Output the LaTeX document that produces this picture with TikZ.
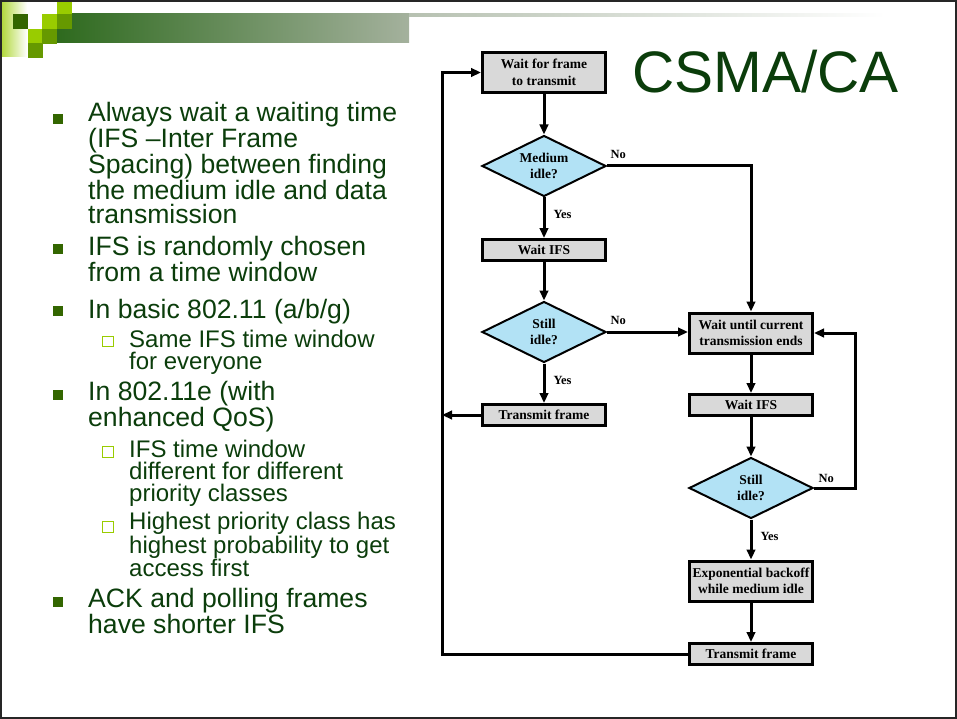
\documentclass[tikz,border=0pt]{standalone}
\usepackage{fontspec}
\setmainfont{Liberation Serif}
\setsansfont{Liberation Sans}
\usetikzlibrary{shapes.geometric,arrows.meta}

\definecolor{slidetext}{HTML}{0B3D0B}
\definecolor{darkleaf}{HTML}{336600}
\definecolor{midleaf}{HTML}{669900}
\definecolor{lightleaf}{HTML}{99CC00}
\definecolor{barstart}{HTML}{2E6A1E}
\definecolor{barend}{HTML}{A4B19D}
\definecolor{boxgray}{HTML}{D9D9D9}
\definecolor{idleblue}{HTML}{B2E2F5}

\tikzset{
  stepbox/.style={draw,line width=3pt,fill=boxgray,minimum width=123pt,minimum height=21pt,
    inner xsep=1pt,inner ysep=1pt,align=center,font=\fontsize{13.5}{16.5}\selectfont\bfseries},
  tallbox/.style={stepbox,minimum height=40pt},
  test/.style={diamond,aspect=2,draw,line width=2pt,fill=idleblue,minimum width=124pt,
    minimum height=61pt,inner sep=0pt,align=center,font=\fontsize{13.5}{16}\selectfont\bfseries},
  flow/.style={line width=3pt,-{Triangle[length=10pt,width=8.5pt]}},
  ans/.style={font=\fontsize{12.5}{14}\selectfont\bfseries,inner sep=1pt},
  % multi-line nodes sit on the baseline of their last line
  point/.style={font=\sffamily\fontsize{26.6}{24.2}\selectfont,text=slidetext,
    anchor=base west,align=left,inner sep=0pt},
  subpoint/.style={point,font=\sffamily\fontsize{24}{22.2}\selectfont},
}

\begin{document}
\begin{tikzpicture}[x=1pt,y=-1pt]
\useasboundingbox (0,0) rectangle (957,719);

% header bar and squares
\shade[left color=lightleaf!75,right color=white] (2,3) rectangle (27,57);
\shade[left color=barstart,right color=barend] (57,14) rectangle (409,43);
\shade[left color=barend!80,right color=white] (409,14) rectangle (885,17);
\foreach \x/\y/\c in {13/14/darkleaf,42/14/lightleaf,57/0/lightleaf,57/14/midleaf,
    28/29/lightleaf,42/29/midleaf,28/43/midleaf}
  \fill[\c] (\x,\y) rectangle ++(15,15);
\draw[line width=2pt,black!85] (1,1) rectangle (956,718);

\node[anchor=base west,inner sep=0pt,font=\sffamily\fontsize{58.5}{60}\selectfont,
  text=slidetext] (title) at (632,93) {CSMA/CA};

% bullet list
\node[point] (b1) at (88,223.3) {Always wait a waiting time\\(IFS –Inter Frame\\Spacing) between finding\\the medium idle and data\\transmission};
\node[point] (b2) at (88,281.2) {IFS is randomly chosen\\from a time window};
\node[point] (b3) at (88,318.3) {In basic 802.11 (a/b/g)};
\node[subpoint] (s1) at (129,369.8) {Same IFS time window\\for everyone};
\node[point] (b4) at (88,426.7) {In 802.11e (with\\enhanced QoS)};
\node[subpoint] (s2) at (129,501.7) {IFS time window\\different for different\\priority classes};
\node[subpoint] (s3) at (129,576.7) {Highest priority class has\\highest probability to get\\access first};
\node[point] (b5) at (88,633.3) {ACK and polling frames\\have shorter IFS};
\foreach \y in {126.7,256.7,318.3,402.7,609.3}
  \fill[darkleaf] (53,\y-12.5) rectangle ++(10,10);
\foreach \y in {347.3,457.7,532.7}
  \draw[lightleaf,line width=1.3pt,fill=white] (102.5,\y-11) rectangle ++(11,10.5);

% flow chart
\node[tallbox] (wait) at (544,72.5) {Wait for frame\\to transmit};
\node[test] (idle1) at (544,166) {Medium\\idle?};
\node[stepbox] (ifs1) at (544,250) {Wait IFS};
\node[test] (idle2) at (544,332) {Still\\idle?};
\node[stepbox] (send1) at (544,415) {Transmit frame};
\node[tallbox] (busy) at (751,333) {Wait until current\\transmission ends};
\node[stepbox] (ifs2) at (751,405) {Wait IFS};
\node[test] (idle3) at (751,488) {Still\\idle?};
\node[tallbox] (backoff) at (751,581) {Exponential backoff\\while medium idle};
\node[stepbox] (send2) at (751,654) {Transmit frame};
\coordinate (rail) at (442,73);
\coordinate (back) at (855,333);

\draw[flow] (wait) -- (idle1);
\draw[flow] (idle1) -- node[ans,pos=0.42,right=7pt] {Yes} (ifs1);
\draw[flow] (ifs1) -- (idle2);
\draw[flow] (idle2) -- node[ans,pos=0.42,right=7pt] {Yes} (send1);
\draw[flow] (send1.west) -- (send1.west -| rail);
\draw[flow] (send2.west) -- (send2.west -| rail) |- (wait.west);
\draw[flow] (idle1.east) node[ans,anchor=south west,xshift=1pt,yshift=5pt] {No} -| (busy.north);
\draw[flow] (idle2.east) node[ans,anchor=south west,xshift=1pt,yshift=5pt] {No} -- (idle2.east -| busy.west);
\draw[flow] (busy) -- (ifs2);
\draw[flow] (ifs2) -- (idle3);
\draw[flow] (idle3.east) node[ans,anchor=south west,xshift=2pt,yshift=3pt] {No} -- (idle3.east -| back) |- (busy.east);
\draw[flow] (idle3) -- node[ans,pos=0.42,right=7pt] {Yes} (backoff);
\draw[flow] (backoff) -- (send2);
\end{tikzpicture}
\end{document}
